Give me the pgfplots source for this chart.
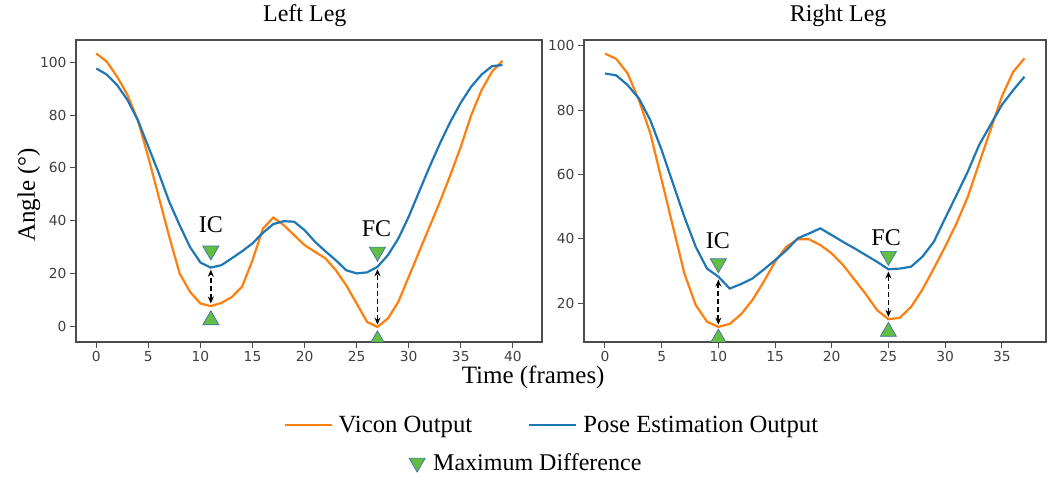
\documentclass[border=0pt]{standalone}
\usepackage{pgfplots}
\pgfplotsset{compat=1.18}
\usepackage{fontspec}
\setmainfont{Liberation Serif}
\newfontfamily\tickfont{DejaVu Sans}
\usetikzlibrary{arrows.meta}

\definecolor{vicon}{HTML}{FF7F0E}
\definecolor{pose}{HTML}{1F77B4}
\definecolor{mkfill}{RGB}{98,190,65}
\definecolor{mkedge}{RGB}{60,110,180}

\pgfplotsset{
  legs/.style={
    scale only axis,
    height=302pt,
    axis line style={black!70, line width=1.1pt},
    tick pos=left,
    tick align=outside,
    major tick length=6pt,
    tick style={black!70, line width=1pt},
    tick label style={font=\tickfont\fontsize{13.8}{13.8}\selectfont, text=black!75},
    /pgf/number format/assume math mode=true,
    title style={font=\fontsize{24}{24}\selectfont, anchor=base},
    clip marker paths=true,
    legend cell align=left,
  },
  diffdown/.style={only marks, mark=triangle*, mark size=9.3pt,
    mark options={fill=mkfill, draw=mkedge, line width=0.7pt, rotate=180}},
  diffup/.style={only marks, mark=triangle*, mark size=9.3pt,
    mark options={fill=mkfill, draw=mkedge, line width=0.7pt}},
}
\tikzset{
  gap/.style={dashed, dash pattern=on 5pt off 3pt, line width=1.8pt,
    {Stealth[length=7pt,width=6pt]}-{Stealth[length=7pt,width=6pt]}},
  tag/.style={font=\fontsize{24}{24}\selectfont},
}

\begin{document}
\begin{tikzpicture}
\useasboundingbox (0,0) rectangle (1054pt,481pt);

% left leg
\begin{axis}[legs,
  at={(76pt,139pt)}, anchor=south west,
  width=466pt,
  xmin=-1.95, xmax=42.8, ymin=-6, ymax=108.5,
  xtick={0,5,...,40}, ytick={0,20,...,100},
  title={Left Leg},
  title style={at={(axis description cs:0.491,1.04)}},
  xlabel={Time (frames)},
  xlabel style={font=\fontsize{25}{25}\selectfont, at={(axis description cs:0.981,-0.136)}, anchor=base},
  ylabel={Angle (°)},
  ylabel style={font=\fontsize{25}{25}\selectfont, at={(axis description cs:-0.101,0.487)}, anchor=center},
  legend columns=2,
  legend style={at={(axis description cs:1.021,-0.275)}, anchor=center,
    draw=none, fill=none, font=\fontsize{24.7}{24.7}\selectfont,
    /tikz/every odd column/.append style={column sep=4pt},
    /tikz/every even column/.append style={column sep=54pt}},
  legend image code/.code={\draw[#1] (0pt,0pt) -- (47pt,0pt);},
]
\addplot[vicon, line width=2.2pt] coordinates {
 (0,103.4) (1,100.3) (2,94.6) (3,87.6) (4,78) (5,64) (6,49) (7,34) (8,20) (9,13)
 (10,8.6) (11,7.6) (12,8.8) (13,11) (14,15) (15,25) (16,37) (17,41.2) (18,38.3) (19,34.5)
 (20,30.7) (21,28.2) (22,25.7) (23,21.2) (24,15.5) (25,8.6) (26,1.6) (27,-0.3) (28,2.9) (29,9.2)
 (30,18.7) (31,28.2) (32,37.7) (33,47.2) (34,57.3) (35,68) (36,80) (37,89.5) (38,96.5) (39,100.6)
};
\addlegendentry{Vicon Output}
\addplot[pose, line width=2.2pt] coordinates {
 (0,97.7) (1,95.4) (2,91.4) (3,85.7) (4,78) (5,68) (6,58) (7,47.2) (8,38.3) (9,30)
 (10,24.1) (11,22.2) (12,23.1) (13,25.7) (14,28.4) (15,31.4) (16,35.4) (17,38.7) (18,39.8) (19,39.6)
 (20,36.4) (21,32) (22,28.4) (23,25) (24,21.2) (25,20) (26,20.4) (27,22.5) (28,26.9) (29,33.2)
 (30,41.5) (31,51) (32,60.4) (33,69.3) (34,77.5) (35,84.7) (36,90.8) (37,95.4) (38,98.6) (39,99)
};
\addlegendentry{Pose Estimation Output}
\draw[gap] (axis cs:11,8.6) -- (axis cs:11,21.4);
\draw[gap] (axis cs:27,0.6) -- (axis cs:27,21.6);
\addplot[diffdown, forget plot] coordinates {(11,28.6) (27,28.2)};
\addplot[diffup, forget plot] coordinates {(11,2.3) (27,-5.3)};
\node[tag] at (axis cs:11,38.3) {IC};
\node[tag] at (axis cs:26.9,36.8) {FC};
\end{axis}

% right leg
\begin{axis}[legs,
  at={(584pt,139pt)}, anchor=south west,
  width=462pt,
  xmin=-1.85, xmax=38.9, ymin=8, ymax=101.8,
  xtick={0,5,...,35}, ytick={20,40,...,100},
  title={Right Leg},
  title style={at={(axis description cs:0.55,1.04)}},
  legend style={at={(axis description cs:-0.125,-0.40)}, anchor=center,
    draw=none, fill=none, font=\fontsize{24}{24}\selectfont,
    /tikz/every odd column/.append style={column sep=6pt}},
]
\addplot[vicon, line width=2.2pt, forget plot] coordinates {
 (0,97.6) (1,95.9) (2,91.4) (3,83.1) (4,72.8) (5,58.3) (6,43.8) (7,29.3) (8,19.5) (9,14.3)
 (10,12.7) (11,13.6) (12,16.6) (13,21) (14,26.7) (15,32.9) (16,37.6) (17,39.9) (18,39.9) (19,38.1)
 (20,35.5) (21,31.9) (22,27.4) (23,22.9) (24,17.9) (25,15.1) (26,15.5) (27,18.9) (28,24.3) (29,30.8)
 (30,37.6) (31,44.8) (32,53.1) (33,63.5) (34,73.8) (35,84.2) (36,91.9) (37,96.1)
};
\addplot[pose, line width=2.2pt, forget plot] coordinates {
 (0,91.4) (1,90.8) (2,87.8) (3,83.6) (4,76.9) (5,67.6) (6,57.2) (7,46.9) (8,37.6) (9,30.8)
 (10,28.3) (11,24.6) (12,26) (13,27.7) (14,30.5) (15,33.4) (16,36.5) (17,40.2) (18,41.7) (19,43.3)
 (20,41.2) (21,39.1) (22,37.1) (23,35) (24,32.9) (25,30.6) (26,30.8) (27,31.4) (28,34.5) (29,39.1)
 (30,46.4) (31,53.6) (32,60.9) (33,69.2) (34,75.4) (35,81.6) (36,86.2) (37,90.4)
};
\draw[gap] (axis cs:10,13.4) -- (axis cs:10,27.4);
\draw[gap] (axis cs:25,15.8) -- (axis cs:25,29.9);
\addplot[diffdown] coordinates {(10,32.4) (25,34.7)};
\addlegendentry{Maximum Difference}
\addplot[diffup, forget plot] coordinates {(10,9.1) (25,11.2)};
\node[tag] at (axis cs:9.96,39.4) {IC};
\node[tag] at (axis cs:24.8,40.4) {FC};
\end{axis}
\end{tikzpicture}
\end{document}
